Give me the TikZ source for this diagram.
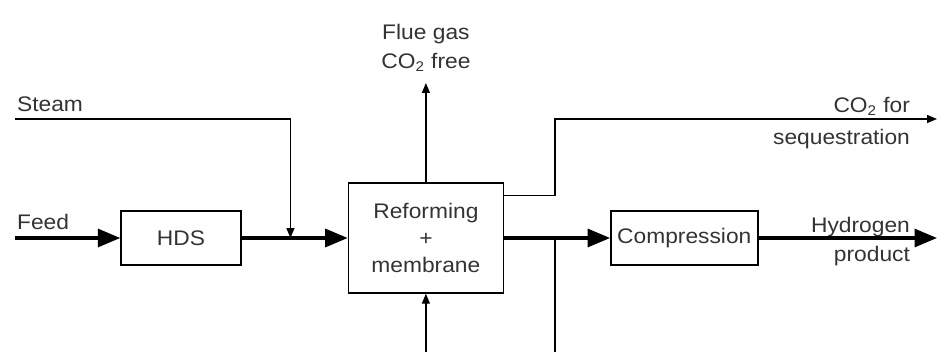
\documentclass[tikz,border=0pt]{standalone}
\usepackage{fontspec}
\setmainfont[FakeStretch=1.08]{Liberation Sans}
\usepackage{tikz}
\usetikzlibrary{arrows.meta,positioning,calc}

\begin{document}
\begin{tikzpicture}[node distance=2.12cm, auto, font=\fontsize{12}{16.5}\selectfont]
    % Stili
    \tikzstyle{unit}=[rectangle, minimum height=1.08cm, text centered, draw=black, line width=0.8pt, text=black!80]
    \tikzstyle{stream}=[text=black!80, inner sep=1pt]
    \tikzstyle{main}=[-{Triangle[length=4.5mm, width=3.6mm]}, line width=1.8pt]
    \tikzstyle{side}=[-{Triangle[length=2mm, width=1.6mm]}, line width=0.7pt]

    \useasboundingbox (0,0) rectangle (18.76,7.04);

    % Nodi
    \node (hds) [unit, minimum width=2.4cm] at (3.62,2.28) {HDS};
    \node (reform) [unit, minimum width=3.1cm, minimum height=2.2cm, align=center, font=\fontsize{12}{15.5}\selectfont, right=of hds] {Reforming\\+\\membrane};
    \node (compr) [unit, minimum width=2.94cm, inner sep=1pt, right=of reform] {Compression};

    \coordinate (feedin) at (0.3,2.28);
    \coordinate (steamin) at (0.3,4.66);
    \coordinate (mix) at ($(hds.east)!0.46!(reform.west)$);
    \coordinate (flue) at (reform.north |- 0,5.38);
    \coordinate (fuelin) at (reform.south |- 0,0);
    \coordinate (co2a) at ($(reform.north east)+(0,-0.26)$);
    \coordinate (co2b) at (11.1,4.66);
    \coordinate (co2out) at (18.74,4.66);
    \coordinate (tap) at (reform.east -| 11.1,0);
    \coordinate (tapout) at (11.1,0);
    \coordinate (h2out) at (18.74,2.28);

    \node (feedlbl) [stream, anchor=base west] at (0.3,2.46) {Feed};
    \node (steamlbl) [stream, anchor=base west] at (0.3,4.80) {Steam};
    \node (fluelbl) [stream, anchor=south, align=center] at (reform.north |- 0,5.56) {Flue gas\\CO\textsubscript{2} free};
    \node (co2lbl) [stream, anchor=north east, align=right] at (18.24,5.14) {CO\textsubscript{2} for\\[2pt]sequestration};
    \node (h2lbl) [stream, anchor=north east, align=right] at (18.24,2.74) {Hydrogen\\product};

    % Collegamenti
    \draw [main] (feedin) -- (hds);
    \draw [main] (hds) -- (reform);
    \draw [side] (steamin) -| (mix);
    \draw [side] (reform.north) -- (flue);
    \draw [side] (fuelin) -- (reform.south);
    \draw [side] (co2a) -| (co2b) -- (co2out);
    \draw [main] (reform) -- (compr);
    \draw [main] (compr) -- (h2out);
    \draw [line width=0.7pt] (tap) -- (tapout);

\end{tikzpicture}
\end{document}
